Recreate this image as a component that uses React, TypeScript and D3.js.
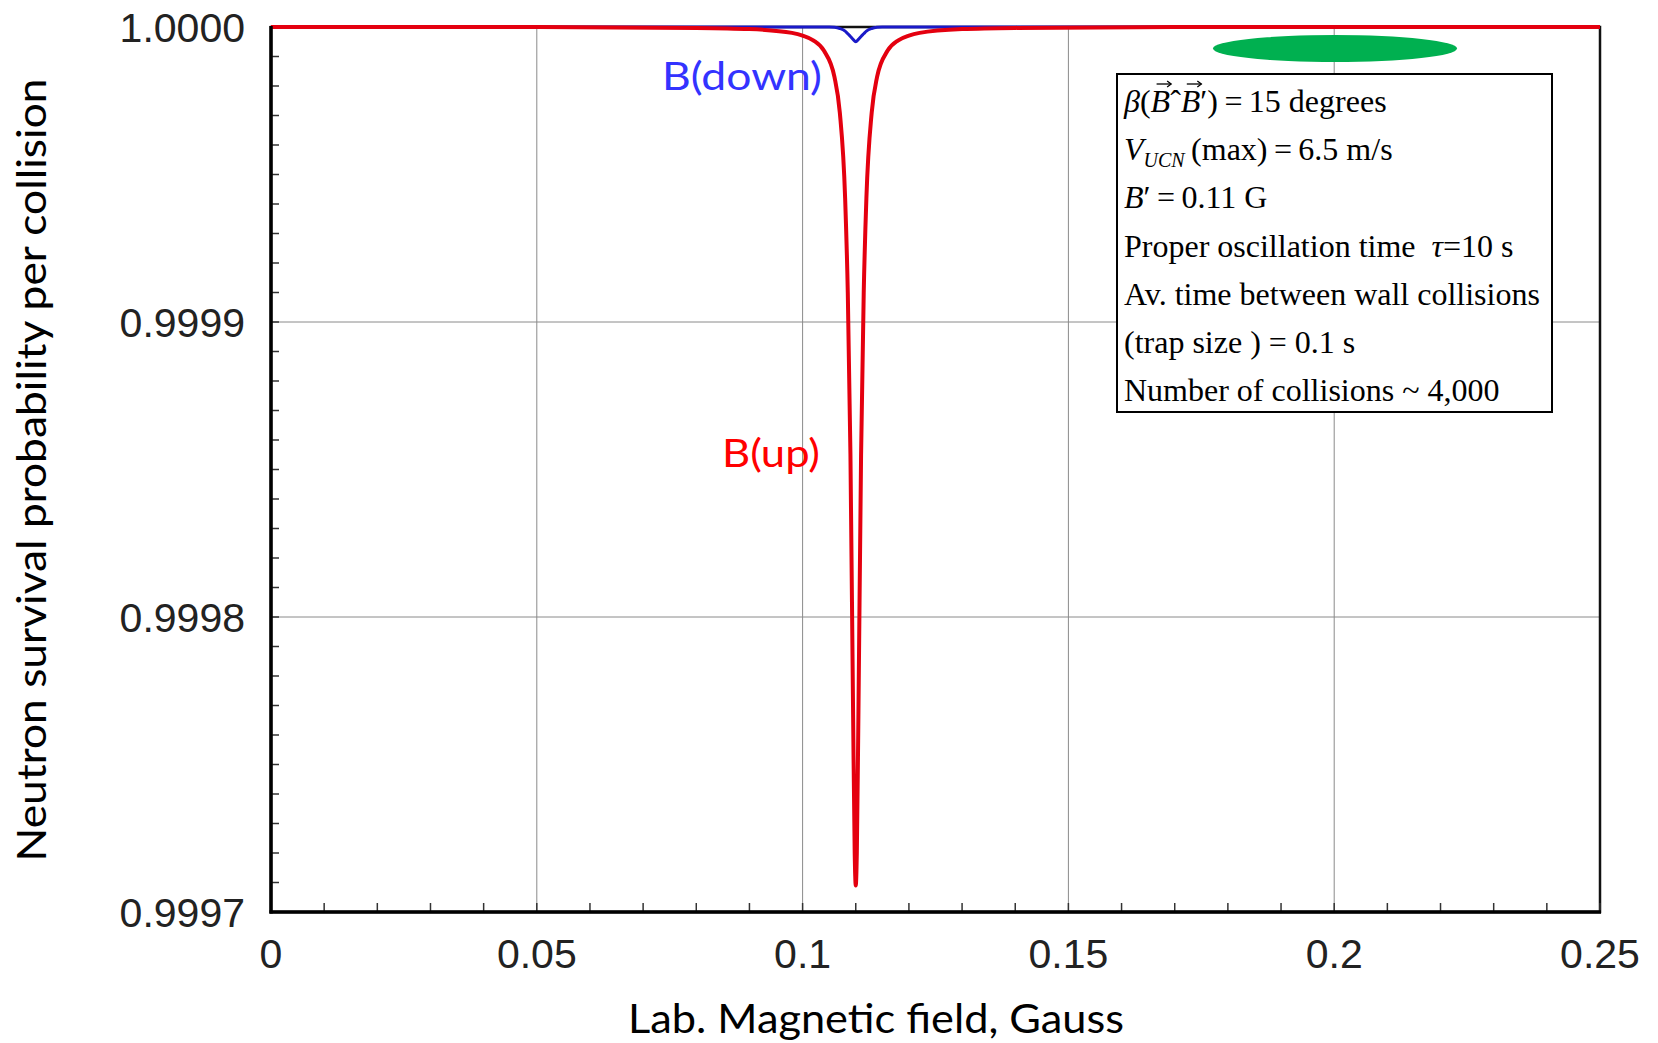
import React, { useLayoutEffect, useRef, useState } from "react";
import * as d3 from "d3";

// ---- data ----
const xTicks = [0, 0.05, 0.1, 0.15, 0.2, 0.25];
const xTickLabels = ["0", "0.05", "0.1", "0.15", "0.2", "0.25"];
const yTicks = [0.9997, 0.9998, 0.9999, 1.0];
const yTickLabels = ["0.9997", "0.9998", "0.9999", "1.0000"];

const upX = [0, 0.05, 0.08, 0.09, 0.098, 0.1, 0.102, 0.104, 0.106, 0.107, 0.108, 0.1085, 0.109, 0.1095, 0.1098, 0.11,
  0.1102, 0.1105, 0.111, 0.1115, 0.112, 0.113, 0.114, 0.116, 0.118, 0.12, 0.122, 0.13, 0.14, 0.17, 0.25];
const upY = [1.0, 1.0, 0.9999997, 0.9999993, 0.999998, 0.9999971, 0.9999955, 0.999992, 0.999983, 0.999971, 0.999942, 0.99991, 0.999855, 0.999767, 0.99972, 0.999709,
  0.99972, 0.999767, 0.999855, 0.99991, 0.999942, 0.999971, 0.999983, 0.999992, 0.9999955, 0.9999971, 0.999998, 0.9999993, 0.9999997, 1.0, 1.0];

const downX = [0, 0.1, 0.105, 0.106, 0.107, 0.108, 0.1085, 0.109, 0.1095, 0.11, 0.1105, 0.111, 0.1115, 0.112, 0.113, 0.114, 0.115, 0.12, 0.25];
const downY = [1.0, 1.0, 1.0, 0.9999999, 0.9999995, 0.9999986, 0.9999977, 0.9999968, 0.9999958, 0.999995,
  0.9999958, 0.9999968, 0.9999977, 0.9999986, 0.9999995, 0.9999999, 1.0, 1.0, 1.0];

const infoLines = [
  "Av. time between wall collisions",
  "(trap size ) = 0.1 s",
  "Number of collisions ~ 4,000",
];

// ---- layout ----
const W = 1658;
const H = 1043;
const M = { left: 271, right: 1600, top: 27, bottom: 912 };

const x = d3.scaleLinear().domain([0, 0.25]).range([M.left, M.right]);
const y = d3.scaleLinear().domain([0.9997, 1.0]).range([M.bottom, M.top]);

const xMinor = d3.range(0, 26).map((i) => i * 0.01);
const yMinor = d3.range(0, 31).map((i) => 0.9997 + i * 0.00001);

const lineGen = d3
  .line<[number, number]>()
  .x((d) => x(d[0]))
  .y((d) => y(d[1]))
  .curve(d3.curveMonotoneX);

const upPath = lineGen(upX.map((v, i) => [v, upY[i]] as [number, number])) || "";
const downPath = lineGen(downX.map((v, i) => [v, downY[i]] as [number, number])) || "";

const SANS = "Lato, 'Open Sans', sans-serif";
const SERIF = "'Liberation Serif', 'Times New Roman', serif";
const TICKFONT = "'Liberation Sans', Arial, sans-serif";

export default function App() {
  const line1Ref = useRef<SVGTextElement>(null);
  const [arrows, setArrows] = useState<{ x1: number; x2: number; y: number }[]>([]);

  useLayoutEffect(() => {
    const el = line1Ref.current;
    if (!el) return;
    try {
      const res: { x1: number; x2: number; y: number }[] = [];
      [2, 4].forEach((i) => {
        const e = el.getExtentOfChar(i);
        res.push({ x1: e.x + 6, x2: e.x + e.width + 1, y: e.y + 1 });
      });
      setArrows(res);
    } catch (err) {
      // ignore
    }
  }, []);

  const boxX = 1117;
  const boxY = 74;
  const boxW = 435;
  const boxH = 338;
  const tx = 1124;
  const base0 = 112;
  const step = 48.2;

  return (
    <svg width={W} height={H} style={{ position: "absolute", left: 0, top: 0, background: "#fff" }}>
      <rect x={0} y={0} width={W} height={H} fill="#fff" />

      {/* grid */}
      {xTicks.slice(1, -1).map((t) => (
        <line key={"gx" + t} x1={x(t)} x2={x(t)} y1={M.top} y2={M.bottom} stroke="#8a8a8a" strokeWidth={1} />
      ))}
      {yTicks.slice(1, -1).map((t) => (
        <line key={"gy" + t} x1={M.left} x2={M.right} y1={y(t)} y2={y(t)} stroke="#8a8a8a" strokeWidth={1} />
      ))}

      {/* frame */}
      <rect x={M.left} y={M.top} width={M.right - M.left} height={M.bottom - M.top} fill="none" stroke="#111" strokeWidth={2.5} />

      {/* minor ticks */}
      {xMinor.map((t, i) => (
        <line key={"mx" + i} x1={x(t)} x2={x(t)} y1={M.bottom} y2={M.bottom - 9} stroke="#333" strokeWidth={1.5} />
      ))}
      {yMinor.map((t, i) => (
        <line key={"my" + i} x1={M.left} x2={M.left + 8} y1={y(t)} y2={y(t)} stroke="#333" strokeWidth={1.5} />
      ))}

      {/* curves */}
      <path d={downPath} fill="none" stroke="#1a1ac8" strokeWidth={3} strokeLinejoin="round" />
      <path d={upPath} fill="none" stroke="#e4000f" strokeWidth={4} strokeLinejoin="round" />

      {/* main axes */}
      <line x1={M.left} x2={M.left} y1={M.top - 1} y2={M.bottom + 1.5} stroke="#000" strokeWidth={3.5} />
      <line x1={M.left - 1.5} x2={M.right + 1} y1={M.bottom} y2={M.bottom} stroke="#000" strokeWidth={3.5} />

      {/* tick labels */}
      {yTicks.map((t, i) => (
        <text key={"yl" + t} x={245} y={y(t)} dy="0.36em" textAnchor="end" fontFamily={TICKFONT} fontSize={41} fill="#222">
          {yTickLabels[i]}
        </text>
      ))}
      {xTicks.map((t, i) => (
        <text key={"xl" + t} x={x(t)} y={968} textAnchor="middle" fontFamily={TICKFONT} fontSize={41} fill="#222">
          {xTickLabels[i]}
        </text>
      ))}

      {/* axis titles */}
      <text x={876} y={1033} textAnchor="middle" fontFamily={SANS} fontSize={41} fill="#000" textLength={496} lengthAdjust="spacingAndGlyphs">
        Lab. Magnetic field, Gauss
      </text>
      <text
        transform={`translate(46,470) rotate(-90)`}
        textAnchor="middle"
        fontFamily={SANS}
        fontSize={41}
        fill="#000"
        textLength={783}
        lengthAdjust="spacingAndGlyphs"
      >
        Neutron survival probability per collision
      </text>

      {/* curve labels */}
      <text x={662} y={90} fontFamily={SANS} fontSize={39} fill="#3333ff" textLength={160} lengthAdjust="spacingAndGlyphs">
        B(down)
      </text>
      <text x={722} y={467} fontFamily={SANS} fontSize={39} fill="#ff0000" textLength={98} lengthAdjust="spacingAndGlyphs">
        B(up)
      </text>

      {/* green ellipse */}
      <ellipse cx={1335} cy={48.5} rx={122} ry={13.5} fill="#00b050" />

      {/* info box */}
      <rect x={boxX} y={boxY} width={boxW} height={boxH} fill="#fff" stroke="#000" strokeWidth={2} />
      <g fontFamily={SERIF} fontSize={32} fill="#000">
        <text ref={line1Ref} x={tx} y={base0}>
          <tspan fontStyle="italic">β</tspan>(<tspan fontStyle="italic">B</tspan>ˆ<tspan fontStyle="italic">B</tspan>′)
          {"\u2009=\u200915 degrees"}
        </text>
        {arrows.map((a, i) => (
          <g key={"ar" + i} stroke="#000" strokeWidth={1.3} fill="none">
            <line x1={a.x1} x2={a.x2} y1={a.y} y2={a.y} />
            <path d={`M${a.x2 - 4},${a.y - 3} L${a.x2},${a.y} L${a.x2 - 4},${a.y + 3}`} />
          </g>
        ))}
        <text x={tx} y={base0 + step}>
          <tspan fontStyle="italic">V</tspan>
          <tspan fontStyle="italic" fontSize={20} dy={7}>UCN</tspan>
          <tspan dy={-7}>{"\u2009(max)\u2009=\u20096.5 m/s"}</tspan>
        </text>
        <text x={tx} y={base0 + step * 2}>
          <tspan fontStyle="italic">B</tspan>
          {"\u2032\u2009=\u20090.11 G"}
        </text>
        <text x={tx} y={base0 + step * 3}>
          {"Proper oscillation time\u00A0\u00A0"}
          <tspan fontStyle="italic">τ</tspan>
          {"=10 s"}
        </text>
        {infoLines.map((s, i) => (
          <text key={"il" + i} x={tx} y={base0 + step * (4 + i)}>
            {s}
          </text>
        ))}
      </g>
    </svg>
  );
}
